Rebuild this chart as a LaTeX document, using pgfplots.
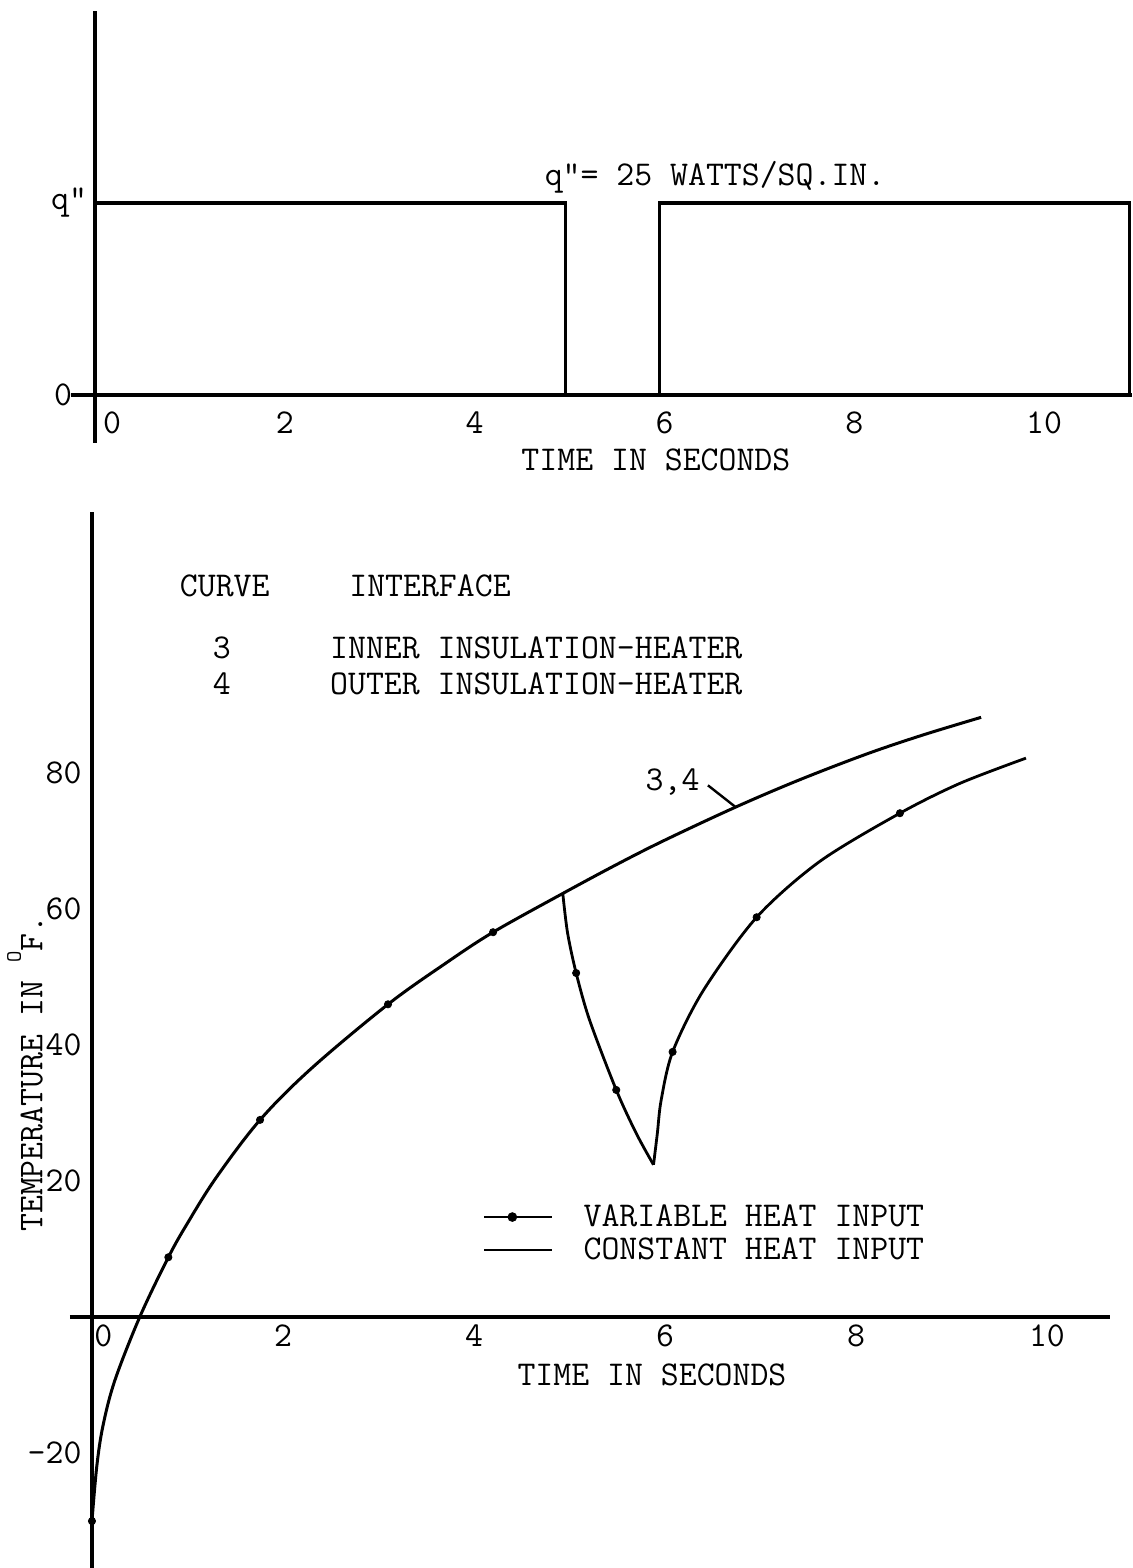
\documentclass[border=0pt]{standalone}
\usepackage{pgfplots}
\pgfplotsset{compat=1.18}
\newcommand{\tw}{\fontsize{17.4}{20}\selectfont\ttfamily}
\begin{document}
\begin{tikzpicture}
\useasboundingbox (0,0) rectangle (566pt,784pt);
% ---------------- top: heat input pulse ----------------
\begin{axis}[
  at={(35.65pt,562.5pt)}, anchor=south west,
  scale only axis, width=530.5pt, height=216pt,
  xmin=-0.25, xmax=10.93, ymin=-0.25, ymax=2.0,
  axis lines=middle, axis line style={-, line width=1.8pt},
  hide obscured x ticks=false, hide obscured y ticks=false,
  major tick length=0pt, tick style={draw=none},
  xtick={0.18,2,4,6,8,10}, xticklabels={0,2,4,6,8,10},
  ytick={1}, yticklabels={q"},
  extra y ticks={0}, extra y tick labels={0},
  extra y tick style={yticklabel style={xshift=-7.5pt}},
  tick label style={font=\tw},
  xticklabel style={yshift=-5pt},
  yticklabel style={xshift=-0.5pt},
  xlabel={TIME IN SECONDS},
  xlabel style={font=\tw, at={(axis description cs:0.551,-0.039)}, anchor=center},
  clip=false,
]
\addplot[line width=1.6pt] coordinates {(0,1) (4.96,1) (4.96,0)};
\addplot[line width=1.6pt] coordinates {(5.95,0) (5.95,1) (10.9,1) (10.9,0)};
\draw[line width=1.5pt] (axis cs:0,0) -- ++(-7.5pt,0pt);
\node[font=\tw] at (axis description cs:0.6067,0.6157) {q"= 25 WATTS/SQ.IN.};
\end{axis}
% ---------------- bottom: temperature ----------------
\begin{axis}[
  at={(35pt,0pt)}, anchor=south west,
  scale only axis, width=520pt, height=528pt,
  xmin=-0.23, xmax=10.66, ymin=-36.9, ymax=118.4,
  axis lines=middle, axis line style={-, line width=1.8pt},
  hide obscured x ticks=false, hide obscured y ticks=false,
  major tick length=0pt, tick style={draw=none},
  xtick={0.12,2,4,6,8,10}, xticklabels={0,2,4,6,8,10},
  ytick={-20,20,40,60,80}, yticklabels={-20,20,40,60,80},
  tick label style={font=\tw},
  yticklabel style={xshift=-1.7pt},
  xticklabel style={yshift=-0.5pt},
  xlabel={TIME IN SECONDS},
  xlabel style={font=\tw, at={(axis description cs:0.5596,0.1828)}, anchor=center},
  ylabel={TEMPERATURE IN \raisebox{0.62em}{\fontsize{11}{11}\selectfont O}F.},
  ylabel style={font=\tw, rotate=90, at={(axis description cs:-0.0433,0.468)}, anchor=center},
  legend style={draw=none, fill=none, font=\tw, at={(axis description cs:0.391,0.352)}, anchor=north west,
    row sep=0pt, nodes={inner sep=2pt}, /tikz/every odd column/.append style={column sep=13pt}},
  legend cell align=left,
  clip=false,
]
% variable heat input: measured points
\addplot[only marks, mark=*, mark size=1.8pt,
  legend image code/.code={\draw[line width=1.3pt] (0pt,0pt) -- (34pt,0pt); \fill (14pt,0pt) circle (2.2pt);}]
  coordinates {(0,-30) (0.8,8.8) (1.76,29) (3.1,46) (4.2,56.6) (5.07,50.6) (5.49,33.4) (6.08,39) (6.96,58.8) (8.46,74.1)};
\addlegendentry{VARIABLE HEAT INPUT}
% constant heat input curve
\addplot[line width=1.5pt, smooth, tension=0.55,
  legend image code/.code={\draw[line width=1.3pt] (0pt,0pt) -- (34pt,0pt);}]
  coordinates {(0,-30) (0.05,-22) (0.115,-16) (0.24,-9.3) (0.5,0) (0.8,8.8) (1.0,13.8) (1.3,20.5) (1.76,29) (2.3,36.6) (3.1,46) (3.7,52) (4.2,56.6) (4.93,62.3) (5.5,66.6) (6.0,70.15) (6.74,75.0) (7.4,78.96) (8.11,82.8) (8.7,85.6) (9.31,88.2)};
\addlegendentry{CONSTANT HEAT INPUT}
% variable heat input: drop and recovery
\addplot[line width=1.4pt, smooth, tension=0.5, forget plot]
  coordinates {(4.93,62.3) (4.98,56.5) (5.07,50.6) (5.21,43.7) (5.49,33.4) (5.7,27) (5.88,22.4)};
\addplot[line width=1.4pt, smooth, tension=0.5, forget plot]
  coordinates {(5.88,22.4) (5.92,27) (5.96,31.9) (6.08,39) (6.4,48) (6.96,58.8) (7.62,67.0) (8.46,74.1) (9.09,78.5) (9.78,82.2)};
% annotations
\node[font=\tw] at (axis cs:1.39,107.6) {CURVE};
\node[font=\tw] at (axis cs:3.54,107.6) {INTERFACE};
\node[font=\tw, inner sep=0pt] at (axis cs:1.36,98.4) {3};
\node[font=\tw, inner sep=0pt] at (axis cs:1.36,93.1) {4};
\node[font=\tw, anchor=west, inner sep=0pt] at (axis cs:2.49,98.4) {INNER INSULATION-HEATER};
\node[font=\tw, anchor=west, inner sep=0pt] at (axis cs:2.49,93.1) {OUTER INSULATION-HEATER};
\node[font=\tw] at (axis cs:6.08,78.7) {3,4};
\draw[line width=1.2pt] (axis cs:6.45,78.2) -- (axis cs:6.74,75.0);
\end{axis}
\end{tikzpicture}
\end{document}
